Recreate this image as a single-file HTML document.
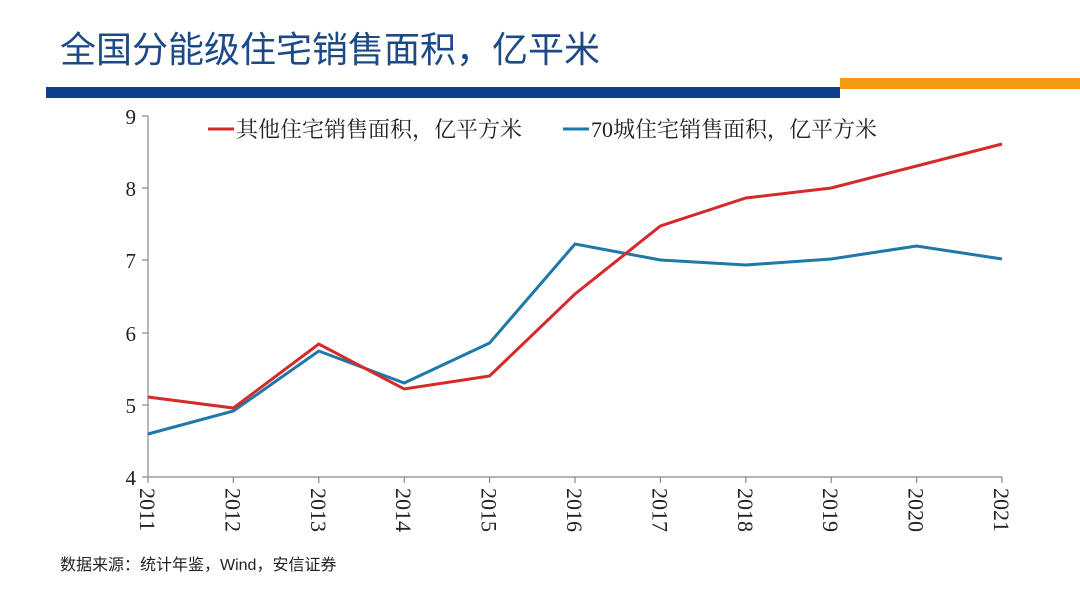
<!DOCTYPE html>
<html><head><meta charset="utf-8"><style>
html,body{margin:0;padding:0;background:#fff;}
body{width:1080px;height:599px;overflow:hidden;position:relative;}
</style></head><body>
<svg width="1080" height="599" xmlns="http://www.w3.org/2000/svg" style="position:absolute;left:0;top:0">
<text x="60" y="62" font-family="Liberation Sans, Noto Sans CJK SC, sans-serif" font-size="36" fill="#1b4a87">全国分能级住宅销售面积，亿平米</text>
<rect x="46" y="87" width="794" height="11" fill="#0f3e8c"/>
<rect x="840" y="78" width="240" height="11" fill="#f39a12"/>
<g stroke="#888" stroke-width="1.2" fill="none">
<line x1="148" y1="116" x2="148" y2="477"/>
<line x1="148" y1="477" x2="1002" y2="477"/>
<line x1="142" y1="116" x2="148" y2="116"/>
<line x1="142" y1="188" x2="148" y2="188"/>
<line x1="142" y1="260" x2="148" y2="260"/>
<line x1="142" y1="333" x2="148" y2="333"/>
<line x1="142" y1="405" x2="148" y2="405"/>
<line x1="142" y1="477" x2="148" y2="477"/>
<path d="M148 477v6M233.4 477v6M318.8 477v6M404.2 477v6M489.6 477v6M575 477v6M660.4 477v6M745.8 477v6M831.2 477v6M916.6 477v6M1002 477v6"/>
</g>
<g font-family="Liberation Serif, serif" font-size="21" fill="#222" text-anchor="end">
<text x="136" y="124">9</text><text x="136" y="196">8</text><text x="136" y="268">7</text>
<text x="136" y="341">6</text><text x="136" y="413">5</text><text x="136" y="485">4</text>
</g>
<g font-family="Liberation Serif, serif" font-size="22" fill="#222">
<text transform="translate(140,488) rotate(90)">2011</text>
<text transform="translate(225.4,488) rotate(90)">2012</text>
<text transform="translate(310.8,488) rotate(90)">2013</text>
<text transform="translate(396.2,488) rotate(90)">2014</text>
<text transform="translate(481.6,488) rotate(90)">2015</text>
<text transform="translate(567,488) rotate(90)">2016</text>
<text transform="translate(652.4,488) rotate(90)">2017</text>
<text transform="translate(737.8,488) rotate(90)">2018</text>
<text transform="translate(823.2,488) rotate(90)">2019</text>
<text transform="translate(908.6,488) rotate(90)">2020</text>
<text transform="translate(994,488) rotate(90)">2021</text>
</g>
<polyline fill="none" stroke="#1e78a8" stroke-width="3" points="148,434 233.4,411 318.8,351 404.2,383 489.6,343 575,244 660.4,260 745.8,265 831.2,259 916.6,246 1002,259"/>
<polyline fill="none" stroke="#d42a2a" stroke-width="3" points="148,397 233.4,408 318.8,344 404.2,389 489.6,376 575,294 660.4,226 745.8,198 831.2,188 916.6,166 1002,144"/>
<line x1="208" y1="129" x2="234" y2="129" stroke="#d42a2a" stroke-width="3"/>
<text x="236" y="137" font-family="Liberation Serif, Noto Serif CJK SC, serif" font-size="22" fill="#222">其他住宅销售面积，亿平方米</text>
<line x1="563" y1="129" x2="589" y2="129" stroke="#1e78a8" stroke-width="3"/>
<text x="591" y="137" font-family="Liberation Serif, Noto Serif CJK SC, serif" font-size="22" fill="#222">70城住宅销售面积，亿平方米</text>
<text x="60" y="570" font-family="Liberation Sans, Noto Sans CJK SC, sans-serif" font-size="16" fill="#222">数据来源：统计年鉴，Wind，安信证券</text>
</svg>
</body></html>
